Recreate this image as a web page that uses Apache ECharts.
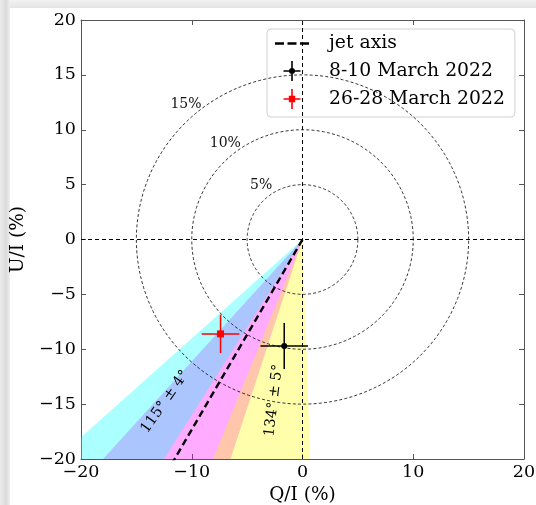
<!DOCTYPE html>
<html>
<head>
<meta charset="utf-8">
<script src="https://cdn.jsdelivr.net/npm/echarts@6/dist/echarts.min.js"></script>
<style>
  html, body { margin: 0; padding: 0; background: #fff; }
  #chart { width: 536px; height: 505px; }
</style>
</head>
<body>
<div id="chart"></div>
<script>
// ---- data -------------------------------------------------------------
// Stokes-plane axes (percent)
const qRange = [-20, 20];
const uRange = [-20, 20];
const qTickStep = 10;
const uTickStep = 5;

// constant-polarisation circles
const circleRadii = [5, 10, 15];
const circleLabels = ['5%', '10%', '15%'];

// EVPA wedges (deg): jet axis band, first and second epoch ranges
const wedgeCenter = [120, 115, 130];
const wedgeHalfWidth = [6, 4, 6];
const wedgeLabels = ['', '115° ± 4°', '134° ± 5°'];

// jet axis direction (EVPA, deg)
const jetAxisEvpa = 120;

// measured points
const epochNames = ['8-10 March 2022', '26-28 March 2022'];
const qValues = [-1.65, -7.4];
const uValues = [-9.7, -8.6];
const qErrors = [2.15, 1.7];
const uErrors = [2.1, 1.75];

// ---- styling ----------------------------------------------------------
const SERIF = 'DejaVu Serif';
const FAR = 80;                       // ray length used before clipping
const wedgeFills = ['rgba(255,0,255,0.33)', 'rgba(0,255,255,0.33)', 'rgba(255,255,0,0.33)'];
const wedgeLabelRadius = [0, 19.3, 14.9];
const wedgeLabelTilt = [0, 5, 3];     // extra text rotation (deg)
const epochColors = ['#000000', '#ff0000'];
const epochSymbols = ['circle', 'rect'];
const epochSymbolSizes = [6, 7];
const circleLabelAngle = [127, 128.5, 130.5]; // deg, position angle for the % labels
const AXIS_COLOR = '#555';

const rad = d => d * Math.PI / 180;
const minus = v => (v < 0 ? '\u2212' + Math.abs(v) : String(v));

// ---- series -----------------------------------------------------------
const series = [];

// wedges: jet band drawn first, the two epochs on top
wedgeCenter.forEach((c, i) => {
  series.push({
    type: 'custom',
    clip: true,
    silent: true,
    z: 1 + i,
    data: [[c, wedgeHalfWidth[i]]],
    renderItem: (params, api) => {
      const centre = api.value(0), half = api.value(1);
      const pts = [api.coord([0, 0])];
      for (let a = 2 * (centre - half); a <= 2 * (centre + half) + 1e-9; a += 0.5) {
        pts.push(api.coord([FAR * Math.cos(rad(a)), FAR * Math.sin(rad(a))]));
      }
      const children = [{ type: 'polygon', shape: { points: pts }, style: { fill: wedgeFills[i] } }];
      if (wedgeLabels[i]) {
        const ang = 2 * centre;
        const r = wedgeLabelRadius[i];
        const p = api.coord([r * Math.cos(rad(ang)), r * Math.sin(rad(ang))]);
        const tilt = ang - 180 + wedgeLabelTilt[i];
        children.push({
          type: 'text', x: p[0], y: p[1], rotation: rad(tilt), z2: 10,
          style: { text: wedgeLabels[i], fontFamily: SERIF, fontSize: 14.5, fill: '#000',
                   align: 'center', verticalAlign: 'middle' }
        });
      }
      return { type: 'group', children };
    }
  });
});

// dashed circles of constant polarisation degree
series.push({
  type: 'custom',
  clip: true,
  silent: true,
  z: 6,
  data: circleRadii.map((r, i) => [r, i]),
  renderItem: (params, api) => {
    const r = api.value(0);
    const idx = params.dataIndex;
    const pts = [];
    for (let a = 0; a <= 360; a += 1) {
      pts.push(api.coord([r * Math.cos(rad(a)), r * Math.sin(rad(a))]));
    }
    const lr = r + 1.2;
    const la = circleLabelAngle[idx];
    const lp = api.coord([lr * Math.cos(rad(la)), lr * Math.sin(rad(la))]);
    return {
      type: 'group',
      children: [
        { type: 'polyline', shape: { points: pts },
          style: { stroke: '#000', lineWidth: 0.8, lineDash: [3, 2.2], fill: 'none' } },
        { type: 'text', x: lp[0], y: lp[1],
          style: { text: circleLabels[idx], fontFamily: SERIF, fontSize: 14, fill: '#111',
                   align: 'center', verticalAlign: 'middle' } }
      ]
    };
  }
});

// jet axis ray + zero lines
series.push({
  name: 'jet axis',
  type: 'line',
  z: 7,
  silent: true,
  symbol: 'none',
  data: [[0, 0], [FAR * Math.cos(rad(2 * jetAxisEvpa)), FAR * Math.sin(rad(2 * jetAxisEvpa))]],
  lineStyle: { color: '#000', width: 2.4, type: [7, 4] },
  itemStyle: { color: '#000' },
  markLine: {
    silent: true,
    symbol: ['none', 'none'],
    label: { show: false },
    lineStyle: { color: '#000', width: 1, type: [4, 3] },
    emphasis: { disabled: true },
    data: [{ xAxis: 0 }, { yAxis: 0 }]
  }
});

// error bars and markers for each epoch
epochNames.forEach((name, i) => {
  series.push({
    type: 'custom',
    silent: true,
    z: 8,
    data: [[qValues[i], uValues[i], qErrors[i], uErrors[i]]],
    renderItem: (params, api) => {
      const q = api.value(0), u = api.value(1), qe = api.value(2), ue = api.value(3);
      const a = api.coord([q - qe, u]), b = api.coord([q + qe, u]);
      const c = api.coord([q, u - ue]), d = api.coord([q, u + ue]);
      const st = { stroke: epochColors[i], lineWidth: 1.5 };
      return {
        type: 'group',
        children: [
          { type: 'line', shape: { x1: a[0], y1: a[1], x2: b[0], y2: b[1] }, style: st },
          { type: 'line', shape: { x1: c[0], y1: c[1], x2: d[0], y2: d[1] }, style: st }
        ]
      };
    }
  });
  series.push({
    name,
    type: 'scatter',
    z: 9,
    symbol: epochSymbols[i],
    symbolSize: epochSymbolSizes[i],
    itemStyle: { color: epochColors[i], opacity: 1 },
    data: [[qValues[i], uValues[i]]]
  });
});

// ---- legend icons -----------------------------------------------------
const dashIcon = 'path://M0,0h9v2.6h-9z M12.5,0h9v2.6h-9z M25,0h9v2.6h-9z';
const errDotIcon = 'path://M7.7,0h1.6v20h-1.6z M0,9.2h17v1.6h-17z M5.5,10a3,3 0 1,1 6,0a3,3 0 1,1 -6,0z';
const errSquareIcon = 'path://M7.7,0h1.6v20h-1.6z M0,9.2h17v1.6h-17z M5.3,6.8h6.4v6.4h-6.4z';

// ---- axes ---------------------------------------------------------------
const tickStyle = { show: true, inside: true, length: 5, lineStyle: { color: AXIS_COLOR, width: 1 } };
const lineStyle = { show: true, onZero: false, lineStyle: { color: AXIS_COLOR, width: 1 } };
const labelFont = { fontFamily: SERIF, fontSize: 17.5, color: '#000' };

const option = {
  animation: false,
  backgroundColor: '#fff',
  grid: { left: 81, right: 12, top: 20, bottom: 46, containLabel: false, outerBoundsMode: 'none' },
  xAxis: [
    {
      type: 'value', min: qRange[0], max: qRange[1], interval: qTickStep, position: 'bottom',
      name: 'Q/I (%)', nameLocation: 'middle', nameGap: 24,
      nameTextStyle: { fontFamily: SERIF, fontSize: 18.5, color: '#000' },
      axisLine: lineStyle, axisTick: tickStyle, splitLine: { show: false },
      axisLabel: Object.assign({ margin: 4, formatter: minus }, labelFont)
    },
    {
      type: 'value', min: qRange[0], max: qRange[1], interval: qTickStep, position: 'top',
      axisLine: lineStyle, axisTick: tickStyle, splitLine: { show: false }, axisLabel: { show: false }
    }
  ],
  yAxis: [
    {
      type: 'value', min: uRange[0], max: uRange[1], interval: uTickStep, position: 'left',
      name: 'U/I (%)', nameLocation: 'middle', nameGap: 45,
      nameTextStyle: { fontFamily: SERIF, fontSize: 18.5, color: '#000' },
      axisLine: lineStyle, axisTick: tickStyle, splitLine: { show: false },
      axisLabel: Object.assign({ margin: 5, formatter: minus }, labelFont)
    },
    {
      type: 'value', min: uRange[0], max: uRange[1], interval: uTickStep, position: 'right',
      axisLine: lineStyle, axisTick: tickStyle, splitLine: { show: false }, axisLabel: { show: false }
    }
  ],
  legend: {
    left: 267, top: 29,
    orient: 'vertical',
    backgroundColor: 'rgba(255,255,255,0.8)',
    borderColor: '#d0d0d0', borderWidth: 1, borderRadius: 4,
    padding: [5, 10, 8, 8],
    itemWidth: 34, itemHeight: 20, itemGap: 8,
    symbolKeepAspect: true,
    selectedMode: false,
    itemStyle: { borderWidth: 0 },
    textStyle: { fontFamily: SERIF, fontSize: 18.8, color: '#000', padding: [0, 0, 0, 15] },
    data: [
      { name: 'jet axis', icon: dashIcon },
      { name: epochNames[0], icon: errDotIcon },
      { name: epochNames[1], icon: errSquareIcon }
    ]
  },
  graphic: [
    { type: 'rect', silent: true, z: -10, shape: { x: 0, y: 0, width: 536, height: 8 },
      style: { fill: { type: 'linear', x: 0, y: 0, x2: 0, y2: 1,
        colorStops: [{ offset: 0, color: '#f2f2f2' }, { offset: 1, color: '#e4e4e4' }] } } },
    { type: 'rect', silent: true, z: -10, shape: { x: 0, y: 0, width: 10, height: 505 },
      style: { fill: { type: 'linear', x: 0, y: 0, x2: 1, y2: 0,
        colorStops: [{ offset: 0, color: '#ececec' }, { offset: 0.6, color: '#dadada' }, { offset: 1, color: '#efefef' }] } } }
  ],
  series
};

const chart = echarts.init(document.getElementById('chart'), null, { renderer: 'canvas' });
chart.setOption(option);
</script>
</body>
</html>
